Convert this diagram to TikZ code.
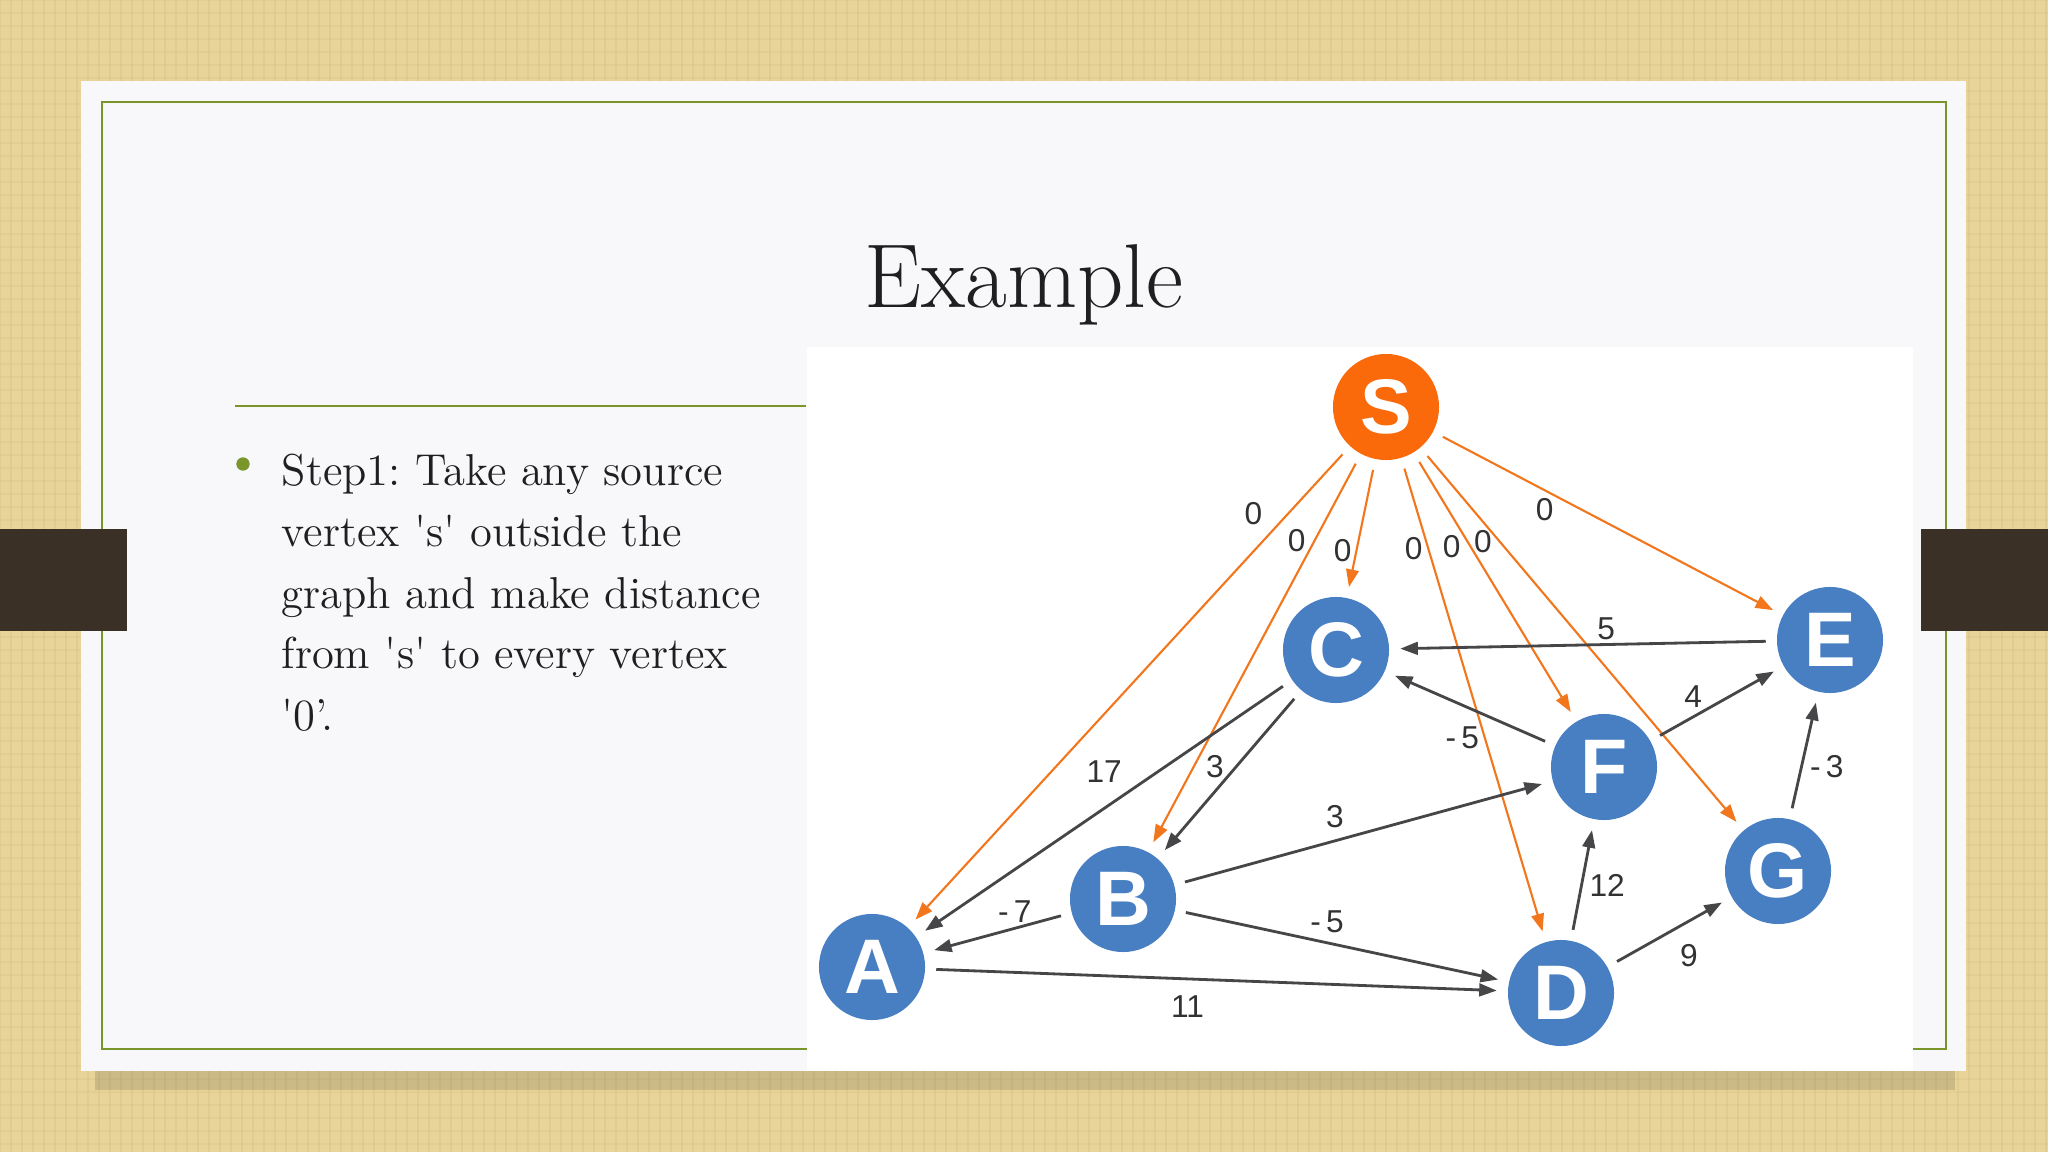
\documentclass[tikz,border=0pt]{standalone}
\usepackage{fontspec}
\setsansfont{Liberation Sans}
\usetikzlibrary{automata,arrows.meta}

\definecolor{paper}{RGB}{232,212,152}
\definecolor{weave}{RGB}{200,176,110}
\definecolor{slide}{RGB}{248,248,250}
\definecolor{olive}{RGB}{122,150,42}
\definecolor{tabbrown}{RGB}{58,48,38}
\definecolor{vblue}{RGB}{72,127,194}
\definecolor{sorange}{RGB}{250,105,10}
\definecolor{eorange}{RGB}{242,118,28}
\definecolor{egray}{RGB}{70,70,72}
\definecolor{lgray}{RGB}{50,50,50}

\begin{document}
\frenchspacing
\begin{tikzpicture}[
        x=0.01cm, y=-0.01cm,
        >={Triangle[length=5pt,width=3.6pt]},
        auto,
        state/.append style={draw=none, fill=vblue, minimum size=1.06cm, inner sep=0pt,
            text=white, font=\sffamily\bfseries\fontsize{22}{22}\selectfont},
        source/.style={state, fill=sorange},
        zedge/.style={->, draw=eorange, line width=0.6pt, shorten >=3pt, shorten <=3pt},
        wedge/.style={->, draw=egray, line width=0.8pt, shorten >=3pt, shorten <=3pt},
        lbl/.style={font=\sffamily\fontsize{9}{10}\selectfont, text=lgray, inner sep=1pt},
        zlbl/.style={lbl, inner sep=0.3pt},
        body/.style={font=\fontsize{12.7}{15}\selectfont, text=black!88, inner sep=0pt}
        ]
        % slide background
        \useasboundingbox (0,0) rectangle (2048,1152);
        \fill[paper] (0,0) rectangle (2048,1152);
        \foreach \k in {0,11,...,2048}
          \draw[weave, opacity=0.2, line width=0.6pt] (\k,0) -- (\k,1152);
        \foreach \k in {0,13,...,1152}
          \draw[weave, opacity=0.14, line width=0.5pt] (0,\k) -- (2048,\k);
        \fill[black, opacity=0.12] (95,1071) rectangle (1955,1090);
        \fill[slide] (81,81) rectangle (1966,1071);
        \draw[olive, line width=0.75pt] (102,102) rectangle (1946,1049);
        \fill[tabbrown] (0,529) rectangle (127,631);
        \fill[tabbrown] (1921,529) rectangle (2048,631);

        % title and text
        \node[font=\fontsize{25.8}{30}\selectfont, text=black!88, anchor=base] (title) at (1024,308) {Example};
        \draw[olive, line width=0.7pt] (235,406) -- (806,406);
        \node[circle, fill=olive, inner sep=0pt, minimum size=3.8pt] (dot) at (243,464) {};
        \foreach \txt [count=\i] in {Step1: Take any source,
            vertex {\textquotesingle}s{\textquotesingle} outside the,
            graph and make distance,
            from {\textquotesingle}s{\textquotesingle} to every vertex,
            {\textquotesingle}0’.}
          \node[body, anchor=base west] (line\i) at (281,{486+61*(\i-1)}) {\txt};

        % graph
        \fill[white] (807,347) rectangle (1913,1071);
        \node[source] (S) at (1386,407) {S};
        \node[state] (C) at (1336,650) {C};
        \node[state] (E) at (1830,640) {E};
        \node[state] (F) at (1604,767) {F};
        \node[state] (G) at (1778,871) {G};
        \node[state] (B) at (1123,899) {B};
        \node[state] (A) at (872,967) {A};
        \node[state] (D) at (1561,993) {D};

        \path
              (S) edge[zedge] node[zlbl, pos=.18, swap, inner sep=2pt] {0} (A)
              (S) edge[zedge] node[zlbl, pos=.25, swap] {0} (B)
              (S) edge[zedge] node[zlbl, pos=.76, swap] {0} (C)
              (S) edge[zedge] node[zlbl, pos=.16, swap] {0} (D)
              (S) edge[zedge] node[zlbl, pos=.30, swap] {0} (F)
              (S) edge[zedge] node[zlbl, pos=.21, swap, xshift=1.5pt] {0} (G)
              (S) edge[zedge] node[zlbl, pos=.35, swap] {0} (E);

        \path
              (E) edge[wedge] node[lbl, pos=.44, swap] {5} (C)
              (F) edge[wedge] node[lbl, pos=.36, inner sep=1.8pt, xshift=-2pt] {-\,5} (C)
              (C) edge[wedge] node[lbl, pos=.43, swap, inner sep=2pt] {17} (A)
              (C) edge[wedge] node[lbl, pos=.53, swap, inner sep=0pt] {3} (B)
              (B) edge[wedge] node[lbl, pos=.47, inner sep=2pt] {3} (F)
              (F) edge[wedge] node[lbl, pos=.41, inner sep=0.5pt] {4} (E)
              (G) edge[wedge] node[lbl, pos=.54, swap] {-\,3} (E)
              (B) edge[wedge] node[lbl, pos=.26, swap, inner sep=0pt] {-\,7} (A)
              (B) edge[wedge] node[lbl, pos=.39] {-\,5} (D)
              (A) edge[wedge] node[lbl, pos=.45, swap, inner sep=4.5pt] {11} (D)
              (D) edge[wedge] node[lbl, pos=.59, swap] {12} (F)
              (D) edge[wedge] node[lbl, pos=.49, swap, inner sep=3pt] {9} (G);
\end{tikzpicture}
\end{document}
